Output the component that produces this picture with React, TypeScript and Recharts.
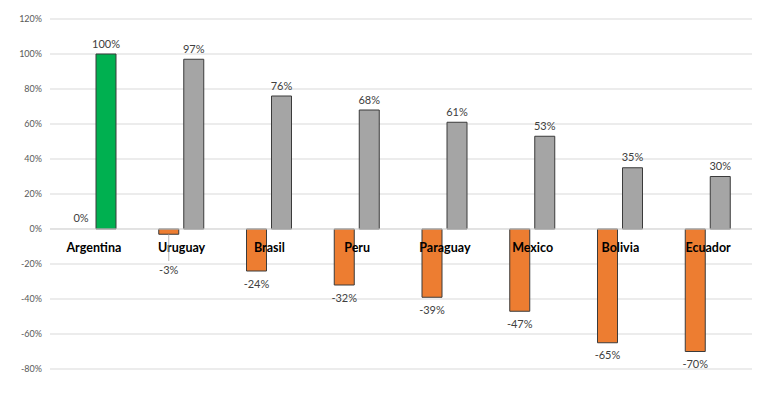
import React from "react";
import { BarChart, Bar, XAxis, YAxis, CartesianGrid, ReferenceLine, LabelList, Cell } from "recharts";

const categories = ["Argentina", "Uruguay", "Brasil", "Peru", "Paraguay", "Mexico", "Bolivia", "Ecuador"];
const changeValues = [0, -3, -24, -32, -39, -47, -65, -70];
const levelValues = [100, 97, 76, 68, 61, 53, 35, 30];
const yTicks = [-80, -60, -40, -20, 0, 20, 40, 60, 80, 100, 120];

const data = categories.map((name, i) => ({ name, change: changeValues[i], level: levelValues[i] }));

const FONT = "Lato, 'Open Sans', sans-serif";

const renderValueLabel = (props: any) => {
  const vb = props.viewBox && props.viewBox.width != null ? props.viewBox : props;
  const x = Number(vb.x);
  const y = Number(vb.y);
  const width = Number(vb.width) || 0;
  const height = Number(vb.height) || 0;
  const value = props.value;
  if (value == null || isNaN(x) || isNaN(y)) return null;
  const top = Math.min(y, y + height);
  const bottom = Math.max(y, y + height);
  const cx = x + width / 2;
  const text = `${value}%`;
  if (value >= 0) {
    return (
      <text x={cx} y={top - 11} textAnchor="middle" dominantBaseline="central" fontSize={11} fill="#404040" fontFamily={FONT}>
        {text}
      </text>
    );
  }
  if (bottom - top < 15) {
    const ly = top + 40;
    return (
      <g>
        <line x1={cx} y1={bottom} x2={cx} y2={ly - 8} stroke="#a6a6a6" strokeWidth={0.8} />
        <text x={cx} y={ly} textAnchor="middle" dominantBaseline="central" fontSize={11} fill="#404040" fontFamily={FONT}>
          {text}
        </text>
      </g>
    );
  }
  return (
    <text x={cx} y={bottom + 12} textAnchor="middle" dominantBaseline="central" fontSize={11} fill="#404040" fontFamily={FONT}>
      {text}
    </text>
  );
};

const CategoryLabels = (props: any) => {
  const vb = props.viewBox || {};
  const n = categories.length;
  const step = vb.width / n;
  return (
    <g>
      {categories.map((c, i) => (
        <text
          key={c}
          x={vb.x + step * (i + 0.5)}
          y={vb.y + 18}
          textAnchor="middle"
          dominantBaseline="central"
          fontSize={12.5}
          fontWeight="bold"
          fill="#000"
          fontFamily={FONT}
        >
          {c}
        </text>
      ))}
    </g>
  );
};

export default function App() {
  return (
    <div style={{ position: "absolute", left: 0, top: 0, background: "#fff" }}>
      <BarChart
        width={770}
        height={399}
        data={data}
        margin={{ top: 19, right: 18, bottom: 30, left: 0 }}
        barSize={20}
        barGap={5}
      >
        <CartesianGrid vertical={false} stroke="#d9d9d9" strokeWidth={1} />
        <XAxis dataKey="name" hide />
        <YAxis
          width={50}
          domain={[-80, 120]}
          ticks={yTicks}
          interval={0}
          axisLine={false}
          tickLine={false}
          tickSize={0}
          tickMargin={8}
          tickFormatter={(v: number) => `${v}%`}
          tick={{ fontSize: 9, fill: "#595959", fontFamily: FONT }}
        />
        <Bar
          dataKey="change"
          fill="#ed7d31"
          stroke="#3b3b3b"
          strokeWidth={1}
          minPointSize={(v: number) => (v === 0 ? 0.01 : 0)}
          isAnimationActive={false}
        >
          {data.map((d) => (
            <Cell key={d.name} stroke={d.change === 0 ? "none" : "#3b3b3b"} fill={d.change === 0 ? "none" : "#ed7d31"} />
          ))}
          <LabelList dataKey="change" content={renderValueLabel} />
        </Bar>
        <Bar dataKey="level" fill="#a5a5a5" stroke="#3b3b3b" strokeWidth={1} isAnimationActive={false}>
          {data.map((d, i) => (
            <Cell key={d.name} fill={i === 0 ? "#00b050" : "#a5a5a5"} />
          ))}
          <LabelList dataKey="level" content={renderValueLabel} />
        </Bar>
        <ReferenceLine y={0} stroke="#d9d9d9" strokeWidth={1} label={<CategoryLabels />} />
      </BarChart>
    </div>
  );
}
